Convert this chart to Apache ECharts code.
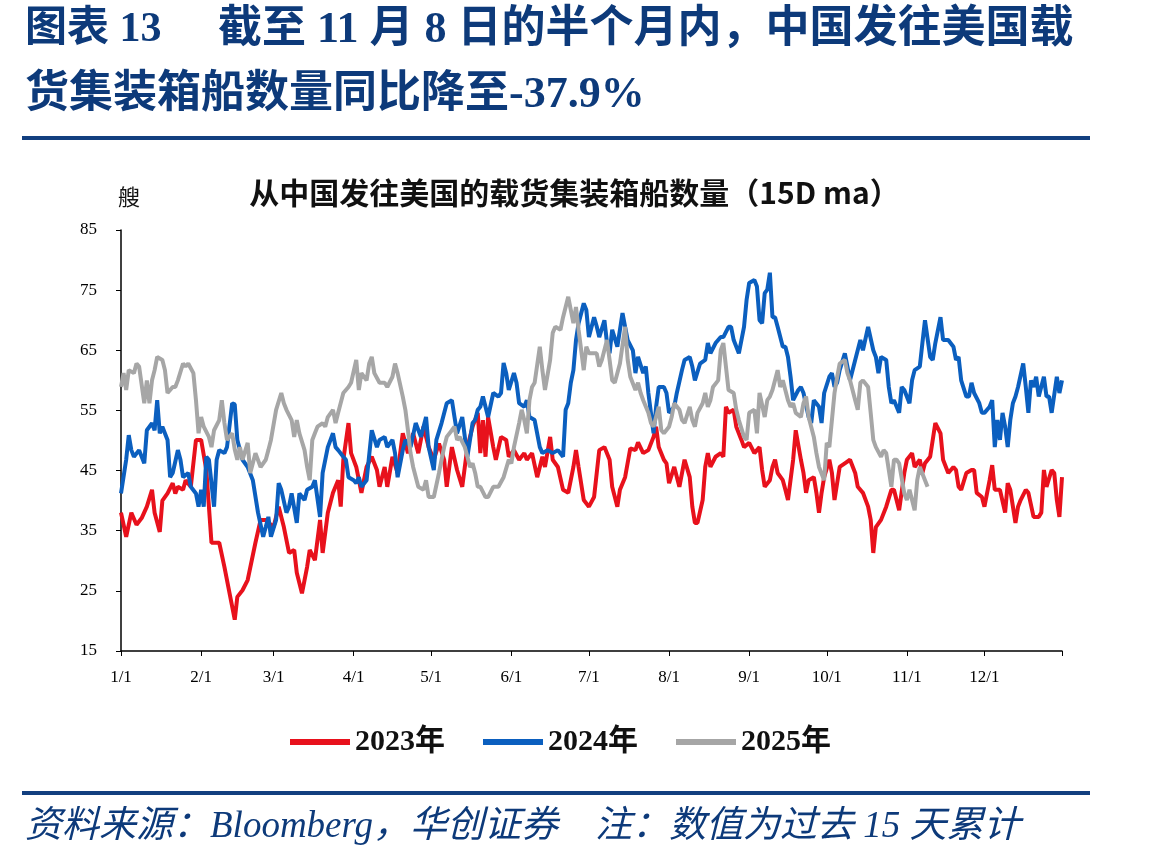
<!DOCTYPE html>
<html>
<head>
<meta charset="utf-8">
<script src="https://cdn.jsdelivr.net/npm/echarts@6/dist/echarts.min.js"></script>
<style>
  html, body { margin: 0; padding: 0; background: #fff; }
  #chart { width: 1149px; height: 861px; }
</style>
</head>
<body>
<div id="chart"></div>
<script>
// x axis: one category per day of the year, labels shown on the 1st of each month
var daysInMonth = [31, 28, 31, 30, 31, 30, 31, 31, 30, 31, 30, 31];
var yTicks = [15, 25, 35, 45, 55, 65, 75, 85];
var seriesNames = ['2023年', '2024年', '2025年'];

// day index (0 = 1/1) and vessel count
var days2023 = [0,2,4,6,8,10,12,13,15,16,18,20,21,22,24,25,27,29,31,33,35,38,40,42,44,45,47,49,52,54,56,59,61,63,65,67,68,70,72,73,75,77,78,80,82,84,85,86,88,89,91,93,95,97,99,100,102,103,105,107,109,111,113,115,117,119,121,123,125,126,128,130,132,134,136,138,139,140,141,142,144,145,147,149,150,152,154,156,157,159,161,163,164,166,167,169,171,173,175,176,177,179,181,183,185,187,189,190,192,193,195,197,199,200,202,204,206,207,208,210,211,212,214,216,218,220,221,222,223,225,226,227,228,230,232,233,234,235,237,238,240,241,243,245,247,248,249,251,252,253,254,256,257,258,260,261,263,264,265,266,268,269,270,271,272,274,275,276,278,280,282,284,285,287,289,290,291,292,294,296,298,299,301,303,304,306,307,309,310,311,313,315,317,318,320,322,323,324,325,327,329,330,331,333,334,336,337,338,340,342,343,344,346,347,348,350,351,353,355,356,357,358,360,361,362,363,364];
var vals2023 = [38,34,38,36,37.1,39,41.8,38,34.8,40,41.2,42.9,41.2,42.3,41.8,43.4,42.3,50.1,50.1,45.1,33,33,29,24.6,20.2,24,25.1,26.8,33,36.8,36.8,35.6,39,35.6,31.3,31.8,28,24.6,29,31.8,30.1,36.8,31.3,38,41.3,43.4,39,46.8,52.9,47.9,45.6,41.3,45.6,47.3,45.1,42.3,45.6,42.3,47.3,44.6,51.2,47.9,51.2,47.9,52.3,48.9,46.8,49.5,46.8,42.3,48.9,45.1,42.3,48.9,52.3,54.6,47.9,53.4,47.3,53.9,48.9,46.8,50.6,50.1,47.3,48.4,46.8,47.9,46.8,47.9,43.9,47.3,45.6,50.6,46.8,45.6,41.8,41.3,45.6,48.4,45.6,40.1,39,40.6,48.4,48.9,46.8,42.3,39,41.8,43.9,48.7,48.4,49.7,47.9,48.4,50.6,52.3,48.9,46.8,46.2,42.9,45.6,42.3,46.8,43.9,39,36.3,36.3,40.1,45.6,47.9,45.6,47.3,47.9,47.3,55.6,54.6,55.1,52.3,50.1,48.9,49.6,47.9,48.9,45.1,42.3,43.4,45.6,46.8,44.6,43.4,41.8,40.1,46.8,51.7,46.8,44.6,41.3,43.4,43.9,41.3,38,41.3,43.9,46.8,44.6,40.1,45.6,46.2,46.8,44.6,42.3,41.3,39,36.8,31.3,35.6,36.8,39,41.8,41.8,38.4,44.6,46.8,47.9,45.6,46.8,44.6,46.2,47.3,52.9,51.2,46.8,44.6,45.6,45.1,42.3,41.8,44.6,45.1,45.1,41.3,40.6,39,43.4,45.9,41.8,41.8,38,42.9,41.8,36.3,39,40.1,41.8,41.3,37.3,37.3,38,45.1,42.3,45.1,44.6,40.1,37.3,43.9,43];

var days2024 = [0,2,3,4,5,7,8,9,10,12,13,14,15,16,18,19,20,22,23,24,26,27,29,30,31,32,33,34,36,37,38,40,41,43,44,45,47,49,51,53,55,56,57,58,60,61,62,64,65,66,68,69,71,72,74,75,77,78,80,82,83,84,86,87,88,90,91,92,93,95,97,99,100,102,103,105,106,107,109,110,112,114,116,118,119,121,122,124,126,128,129,130,132,134,136,137,138,139,140,142,144,146,147,148,149,150,152,153,154,156,157,158,160,162,163,165,167,169,171,172,173,174,175,176,177,179,180,181,183,184,185,187,188,189,190,192,194,195,196,198,199,200,202,203,204,206,207,208,210,211,212,214,215,217,218,220,221,222,224,226,227,228,230,231,232,233,235,236,237,239,241,242,243,245,246,247,248,249,250,251,252,253,254,256,257,258,259,260,262,263,264,266,267,268,270,271,272,274,275,276,277,278,280,281,282,284,286,287,289,291,292,293,294,296,297,298,299,301,302,303,305,306,307,309,310,311,313,314,315,317,318,320,322,323,324,325,327,328,329,330,332,333,334,336,337,338,339,340,341,342,343,344,345,346,347,349,350,351,352,353,354,355,357,358,359,360,362,363,364];
var vals2024 = [41.2,46.8,50.9,48.4,47.3,48.4,47.3,46.2,51.7,52.9,51.7,56.7,51.2,52.3,50.1,43.9,44.6,48.4,46.8,43.9,44.6,42.3,41.2,39,41.8,39,47.3,46.8,39,46.8,48.4,47.9,48.9,56.2,56,50.1,46.8,45.6,43.4,38,34,35.6,37.3,34,36.8,42.9,41.8,38,39,41.2,36.3,41.2,40.1,41.8,42.3,43.4,37.3,44.6,48.9,51.2,48.9,48.4,47.3,46.8,43.9,43.4,42.9,43.9,42.3,43.4,51.7,48.9,50.1,50.6,48.9,50.1,47.9,43.9,48.4,50.1,48.9,52.9,50.6,53.9,48.9,45.1,50.1,52.9,56.2,56.7,53.9,51.2,53.9,47.3,52.9,53.4,55.1,55.6,57.3,53.9,57.9,57.3,57.9,62.9,61.2,58.4,61.2,59.6,56.2,55.6,56.7,53.9,53.4,48.9,47.9,48.4,47.9,48.4,47.3,55.1,56.2,59.6,61.7,66.7,69.5,72.8,71.7,67.2,70.5,69,67.2,70,66.2,64.5,68.4,65.6,71.2,68.9,66.7,65,61.2,63.9,61.2,62.3,57.9,51.2,55.6,58.9,58.9,57.9,54.6,55.6,57.9,61.7,63.4,63.9,62.3,60,62.8,63.4,66.2,64.5,66.2,66.7,67.2,67.2,68.9,68.9,66.7,64.5,68.9,73.4,76.2,76.7,75.6,70,69.5,74.5,75.1,77.9,70.5,70.5,68.9,65.6,65.6,63.9,60.6,56.7,58.4,58.9,57.9,53.9,52.9,56.7,55.6,52.9,57.9,60.6,61.2,58.9,59.6,61.7,64.5,62.3,60,63.4,66.7,65,68.9,65,63.9,61.2,63.9,63.4,58.9,56.2,56.7,54.6,58.9,58.4,56.2,60,61.7,62.3,66.2,70,63.9,63.4,66.2,70.5,66.7,66.7,65.6,63.4,63.9,60,57.3,57.3,59.6,57.9,56.2,54.6,54.6,55.6,56.7,48.9,53.4,50.1,54.6,52.3,48.9,53.4,56.2,57.3,58.9,62.8,58.9,54.6,60,58.9,60.6,57.3,60.6,57.3,57.3,54.6,60.6,57.9,60];

var days2025 = [0,1,2,3,5,6,7,9,10,11,12,13,14,16,17,18,20,21,22,24,25,26,28,29,30,31,32,34,35,36,38,39,40,41,43,44,45,46,47,49,50,52,54,56,57,58,60,62,63,64,66,67,68,69,71,72,73,74,75,76,78,79,80,82,83,84,86,87,88,89,91,92,93,95,96,97,98,100,102,103,105,106,107,109,110,111,112,113,115,117,118,119,121,123,124,125,126,128,129,130,131,133,134,135,136,137,138,139,141,142,144,146,148,150,151,152,154,155,156,157,158,159,160,162,163,164,166,167,168,170,171,173,175,176,177,179,180,181,183,184,185,186,188,189,190,191,193,195,196,197,199,200,201,202,204,205,206,208,209,210,212,213,214,216,217,218,220,221,222,223,225,226,227,228,229,231,232,233,234,235,237,238,239,241,242,243,245,246,247,249,250,251,252,254,255,256,258,259,260,261,263,264,265,266,268,269,270,272,273,274,276,277,278,280,281,282,284,285,286,287,289,290,291,292,294,295,296,298,299,300,301,303,304,305,307,308,309,311,312];
var vals2025 = [58.9,61.2,58.4,61.7,61.2,62.8,62.3,56.2,60,56.2,60,61.7,63.9,63.4,61.7,57.9,58.9,58.9,60,62.8,62.3,62.8,61.2,56.7,51.2,53.9,52.3,50.6,48.9,51.7,53.4,56.7,52.9,50.1,51.2,48.5,46.8,48.9,46.8,49.6,44.6,47.9,45.6,46.8,48.4,50.1,55.1,57.9,56.2,55.1,53.4,50.6,53.4,51.2,48.4,45.6,43.4,50.1,51.2,52.3,52.9,52.3,53.9,55.1,52.9,54.6,57.9,58.4,58.9,59.6,63.4,58.4,61.2,60,62.8,63.9,61.2,59.6,59.6,58.9,60.6,62.8,61.2,57.3,55.1,51.7,47.9,45.6,42.3,41.8,43.4,40.6,40.6,44.6,46.8,48.9,50.6,51.7,52.3,50.1,50.6,48.9,47.3,45.6,46.2,44.6,42.3,42.3,40.6,40.6,42.3,42.3,43.9,46.8,46.2,48.9,52.9,55.1,53.4,51.2,56.7,58.9,59.6,65.6,61.7,58.4,63.4,67.9,68.9,68.4,70.5,73.9,69.5,72.2,68.4,61.7,65.6,64.5,64.5,64.5,62.3,63.4,66.7,63.4,60,59.6,62.8,68.9,63.4,60.6,58.4,59.6,57.9,56.7,54.6,52.9,52.3,55.6,51.7,51.2,52.3,53.9,56.2,55.1,53.4,52.9,55.6,53.4,52.3,54.6,56.2,57.9,55.6,56.7,58.9,60,65,66.2,62.3,58.4,57.9,55.1,53.4,50.6,50.1,54.6,55.1,51.2,57.9,53.9,56.7,57.3,58.4,61.7,58.9,60,56.7,55.6,56.2,54.6,53.9,56.2,57.3,53.9,50.6,47.9,45.6,43.4,49.6,48.9,57.9,60.5,62.8,63.4,61.2,60,56.7,55.1,59.6,60,58.9,54.6,50.1,48.9,47.3,48.4,47.9,42.3,46.8,46.8,46.2,41.2,40.1,41.8,38.4,43.4,45.6,43.4,42.3];

var categories = [];
daysInMonth.forEach(function (n, m) {
    for (var d = 1; d <= n; d++) categories.push((m + 1) + '/' + d);
});

function pairs(days, vals) {
    return days.map(function (d, i) { return [d, vals[i]]; });
}

var navy = '#0d3a7a';
var latinCjk = "'Liberation Serif', 'Noto Sans CJK SC', serif";

var option = {
    animation: false,
    backgroundColor: '#fff',
    color: ['#E8111C', '#0B5FBF', '#A6A6A6'],
    title: {
        text: '从中国发往美国的载货集装箱船数量（15D ma）',
        left: 'center',
        top: 173,
        textStyle: { fontFamily: 'Noto Sans CJK SC', fontWeight: 'bold', fontSize: 30, color: '#111' }
    },
    legend: {
        top: 722,
        left: 285,
        icon: 'rect',
        itemWidth: 60,
        itemHeight: 6,
        itemGap: 38,
        data: seriesNames,
        textStyle: { fontFamily: latinCjk, fontWeight: 'bold', fontSize: 30, color: '#111' }
    },
    grid: { left: 121, top: 230, right: 87, bottom: 210, containLabel: false },
    xAxis: {
        type: 'category',
        data: categories,
        boundaryGap: false,
        axisLine: { lineStyle: { color: '#000', width: 1.5 } },
        axisTick: {
            length: 5,
            lineStyle: { color: '#000' },
            interval: function (i, v) { return v.split('/')[1] === '1' || i === categories.length - 1; }
        },
        axisLabel: {
            interval: function (i, v) { return v.split('/')[1] === '1'; },
            margin: 18,
            fontFamily: 'Liberation Serif',
            fontSize: 17,
            color: '#000'
        },
        splitLine: { show: false }
    },
    yAxis: {
        type: 'value',
        min: yTicks[0],
        max: yTicks[yTicks.length - 1],
        interval: 10,
        name: '艘',
        nameLocation: 'end',
        nameGap: 33,
        nameTextStyle: { fontFamily: 'Noto Sans CJK SC', fontSize: 22, color: '#111', align: 'left', verticalAlign: 'middle', padding: [0, 0, 0, -3] },
        axisLine: { show: true, lineStyle: { color: '#000', width: 1.5 } },
        axisTick: { show: true, length: 5, inside: false, lineStyle: { color: '#000' } },
        axisLabel: { margin: 24, fontFamily: 'Liberation Serif', fontSize: 17, color: '#000' },
        splitLine: { show: false }
    },
    series: [
        { name: seriesNames[0], type: 'line', symbol: 'none', lineStyle: { width: 4 }, data: pairs(days2023, vals2023) },
        { name: seriesNames[1], type: 'line', symbol: 'none', lineStyle: { width: 4 }, data: pairs(days2024, vals2024) },
        { name: seriesNames[2], type: 'line', symbol: 'none', lineStyle: { width: 4 }, data: pairs(days2025, vals2025) }
    ],
    graphic: [
        { type: 'text', left: 25, top: 9, style: { text: '图表 13', font: 'bold 42px ' + latinCjk, fill: navy } },
        { type: 'text', left: 218, top: 9, style: { text: '截至 11 月 8 日的半个月内，中国发往美国载', font: 'bold 44px ' + latinCjk, fill: navy } },
        { type: 'text', left: 25, top: 74, style: { text: '货集装箱船数量同比降至-37.9%', font: 'bold 44px ' + latinCjk, fill: navy } },
        { type: 'rect', shape: { x: 22, y: 136, width: 1068, height: 4 }, style: { fill: '#123f7f' } },
        { type: 'rect', shape: { x: 22, y: 791, width: 1068, height: 4 }, style: { fill: '#123f7f' } },
        { type: 'text', left: 25, top: 809, style: { text: '资料来源：Bloomberg，华创证券    注：数值为过去 15 天累计', font: 'italic 37px ' + latinCjk, fill: navy } }
    ]
};

var myChart = echarts.init(document.getElementById('chart'));
myChart.setOption(option);
</script>
</body>
</html>
